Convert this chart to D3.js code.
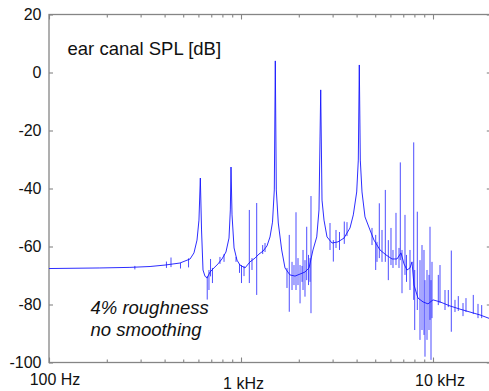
<!DOCTYPE html>
<meta charset="utf-8">
<style>
body { margin: 0; background: #fff; }
text { font-family: "Liberation Sans", Arial, sans-serif; fill: #111; }
.frame { fill: none; stroke: #858585; stroke-width: 1.3px; }
.axis line { stroke: #858585; stroke-width: 1.1px; }
.axis path { display: none; }
.spl { fill: none; stroke: #1515ff; stroke-width: 0.9px; stroke-linejoin: round; }
.spike { stroke: #1515ff; stroke-width: 0.9px; stroke-opacity: 0.85; }
</style>
<body>
<script src="https://cdn.jsdelivr.net/npm/d3@7"></script>
<script>

// ear canal SPL, main curve (frequency in Hz, level in dB)
var freq = [100, 184, 264, 336, 402, 481, 543, 569, 590, 604, 614, 623, 634, 649, 665, 690,
  723, 759, 796, 835, 866, 880, 887, 898, 920, 953, 988, 1049, 1114, 1183, 1241, 1302,
  1366, 1416, 1459, 1491, 1509, 1527, 1564, 1629, 1695, 1799, 1911, 2030, 2154, 2261,
  2371, 2480, 2548, 2601, 2642, 2706, 2805, 2979, 3200, 3439, 3696, 3845, 4005, 4083,
  4132, 4182, 4268, 4424, 4697, 4928, 5297, 5693, 6118, 6494, 6813, 7062, 7321, 7589,
  7773, 7962, 8354, 8870, 9418, 10000, 10876, 12261, 13822, 15584, 17573, 20000];
var spl = [-67.6, -67.4, -67.2, -66.9, -66.4, -65.7, -64.3, -62.2, -57.8, -50.9, -36.4, -54.3,
  -68.1, -70.2, -70.9, -68.8, -67.4, -66.0, -64.3, -61.9, -57.1, -47.4, -32.6, -49.1, -60.5,
  -64.7, -66.4, -67.4, -65.3, -64.0, -62.6, -61.6, -59.8, -56.7, -51.6, -40.5, 4.0, -40.5,
  -51.9, -61.2, -67.4, -69.8, -70.2, -69.5, -68.8, -67.4, -61.2, -56.7, -47.4, -6.0, -44.0,
  -50.9, -56.7, -58.8, -58.4, -57.1, -53.6, -49.1, -41.2, -30.2, 2.6, -30.2, -41.2, -49.8,
  -54.3, -57.8, -61.2, -62.9, -64.3, -64.3, -62.2, -66.0, -68.1, -67.4, -65.3, -73.3, -77.8,
  -79.1, -79.8, -78.4, -79.1, -80.5, -81.6, -82.6, -83.6, -85.0];

// narrow spikes: frequency, lowest and highest level reached
var spikeFreq = [280, 409, 432, 484, 533, 667, 681, 694, 710, 777, 816, 942, 982, 1006, 1037,
  1105, 1141, 1207, 1297, 1334, 1736, 1784, 1844, 1888, 1934, 1981, 2030, 2079, 2104, 2154,
  2199, 2247, 2288, 2315, 2908, 3026, 3125, 3258, 3451, 3565, 4812, 5030, 5109, 5252, 5425,
  5645, 5852, 6042, 6189, 6416, 6652, 6756, 6895, 7147, 7278, 7589, 7934, 8030, 8284, 8556,
  8764, 8976, 9084, 9306, 9532, 9647, 9763, 9881, 10656, 10876, 11548, 12014, 12455, 13018,
  13543, 14330, 14853, 16213, 17154, 17929];
var spikeLow = [-67.9, -67.4, -67.1, -67.6, -67.2, -78.3, -75.0, -70.3, -72.6, -66.0, -65.3,
  -65.3, -69.1, -72.6, -70.2, -72.6, -68.1, -76.7, -62.6, -61.9, -74.3, -82.5, -75.0, -73.3,
  -75.0, -73.3, -79.6, -72.2, -75.0, -77.3, -71.6, -73.3, -72.2, -83.0, -61.2, -65.2, -60.5,
  -61.2, -59.1, -56.4, -59.5, -68.1, -65.3, -64.0, -65.3, -65.3, -71.6, -66.4, -67.4, -66.4,
  -67.4, -64.7, -76.1, -69.8, -72.2, -75.0, -78.4, -88.8, -81.9, -92.2, -88.8, -90.5, -98.0,
  -92.2, -88.8, -85.3, -99.1, -84.7, -80.2, -79.5, -81.9, -80.9, -89.4, -82.6, -82.2, -84.0,
  -82.6, -83.3, -84.7, -84.7];
var spikeHigh = [-66.7, -65.2, -63.8, -65.7, -64.1, -70.2, -68.1, -64.3, -67.4, -63.6, -62.6,
  -63.6, -66.0, -66.4, -66.7, -47.4, -64.0, -45.0, -59.5, -58.8, -67.4, -56.0, -65.3, -66.4,
  -48.2, -64.0, -66.4, -66.7, -61.2, -64.7, -53.2, -62.9, -64.0, -42.6, -51.9, -57.8, -54.3,
  -55.0, -51.4, -51.6, -53.6, -56.0, -58.4, -45.1, -54.3, -40.5, -57.8, -53.6, -61.2, -48.4,
  -60.5, -31.0, -61.2, -49.1, -62.9, -61.2, -24.1, -68.1, -48.0, -64.7, -59.5, -61.2, -71.6,
  -68.1, -69.8, -53.2, -71.6, -65.3, -69.8, -66.4, -75.0, -75.0, -61.4, -78.4, -77.1, -79.5,
  -77.8, -76.7, -79.8, -80.2];

var yTicks = [-100, -80, -60, -40, -20, 0, 20];
var xMajor = [100, 1000, 10000];
var xMajorLabels = ["100 Hz", "1 kHz", "10 kHz"];
var xMinor = [200, 300, 400, 500, 600, 700, 800, 900, 2000, 3000, 4000, 5000, 6000, 7000,
  8000, 9000];

var W = 489, H = 391;
var plotL = 49, plotR = 490.8, plotT = 14.5, plotB = 362.5;

var x = d3.scaleLog().domain([100, 20000]).range([plotL, plotR]);
var y = d3.scaleLinear().domain([-100, 20]).range([plotB, plotT]);

var svg = d3.select("body").append("svg")
    .attr("width", W)
    .attr("height", H);

// ticks, all pointing inward
svg.append("g").attr("class", "axis")
    .attr("transform", "translate(0," + plotB + ")")
    .call(d3.axisBottom(x).tickValues(xMinor).tickSize(-3).tickFormat(""));
svg.append("g").attr("class", "axis")
    .attr("transform", "translate(0," + plotB + ")")
    .call(d3.axisBottom(x).tickValues(xMajor).tickSize(-5).tickFormat(""));
svg.append("g").attr("class", "axis")
    .attr("transform", "translate(0," + plotT + ")")
    .call(d3.axisTop(x).tickValues(xMinor).tickSize(-3).tickFormat(""));
svg.append("g").attr("class", "axis")
    .attr("transform", "translate(0," + plotT + ")")
    .call(d3.axisTop(x).tickValues(xMajor).tickSize(-5).tickFormat(""));
svg.append("g").attr("class", "axis")
    .attr("transform", "translate(" + plotL + ",0)")
    .call(d3.axisLeft(y).tickValues(yTicks).tickSize(-4).tickFormat(""));
svg.append("g").attr("class", "axis")
    .attr("transform", "translate(" + plotR + ",0)")
    .call(d3.axisRight(y).tickValues(yTicks).tickSize(-4).tickFormat(""));

svg.append("rect")
    .attr("class", "frame")
    .attr("x", plotL).attr("y", plotT)
    .attr("width", plotR - plotL).attr("height", plotB - plotT);

// y labels
svg.selectAll(".ylab")
    .data(yTicks)
  .enter().append("text")
    .attr("x", 41.5)
    .attr("y", function(d) { return y(d); })
    .attr("dy", "0.36em")
    .attr("text-anchor", "end")
    .style("font-size", "16px")
    .text(function(d) { return d; });

// x labels (the middle one sits a little lower in the original)
var labelShift = [[6, 0], [2.5, 4], [7, 1]];
svg.selectAll(".xlab")
    .data(xMajor)
  .enter().append("text")
    .attr("x", function(d, i) { return x(d) + labelShift[i][0]; })
    .attr("y", function(d, i) { return 384.5 + labelShift[i][1]; })
    .attr("text-anchor", "middle")
    .style("font-size", "16px")
    .text(function(d, i) { return xMajorLabels[i]; });

var plot = svg.append("g");

// spikes
plot.selectAll(".spike")
    .data(spikeFreq)
  .enter().append("line")
    .attr("class", "spike")
    .attr("x1", function(d) { return x(d); })
    .attr("x2", function(d) { return x(d); })
    .attr("y1", function(d, i) { return y(spikeLow[i]); })
    .attr("y2", function(d, i) { return y(spikeHigh[i]); });

// main curve
var line = d3.line()
    .x(function(d) { return x(d[0]); })
    .y(function(d) { return y(d[1]); });

plot.append("path")
    .datum(d3.zip(freq, spl))
    .attr("class", "spl")
    .attr("d", line);

// annotations
svg.append("text")
    .attr("x", 67.5)
    .attr("y", 55)
    .style("font-size", "18.5px")
    .text("ear canal SPL [dB]");

svg.append("text")
    .attr("x", 90.5)
    .attr("y", 314)
    .style("font-size", "18.5px")
    .style("font-style", "italic")
    .text("4% roughness");

svg.append("text")
    .attr("x", 90.5)
    .attr("y", 336)
    .style("font-size", "18.5px")
    .style("font-style", "italic")
    .text("no smoothing");

</script>
</body>
